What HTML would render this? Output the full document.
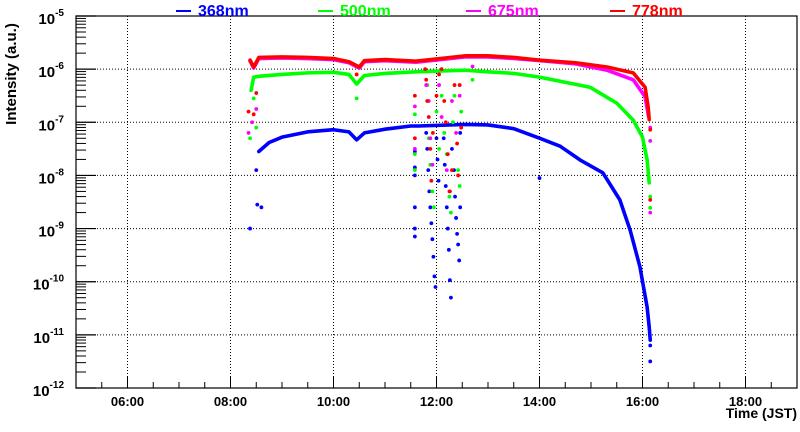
<!DOCTYPE html>
<html><head><meta charset="utf-8"><style>
body{margin:0;background:#fff;width:800px;height:427px;overflow:hidden}
svg text{font-family:"Liberation Sans",sans-serif;font-weight:bold}
</style></head><body>
<svg id="c" width="800" height="427"></svg>
<script>
// data: [hour, log10(intensity)]
const xTickLabels=["06:00","08:00","10:00","12:00","14:00","16:00","18:00"];
const xTickHours=[6,8,10,12,14,16,18];
const yDecades=[-5,-6,-7,-8,-9,-10,-11,-12];
const seriesNames=["368nm","500nm","675nm","778nm"];
const seriesColors=["#0000ff","#00ff00","#ff00ff","#ff0000"];
const blueLine=[[8.55,-7.55],[8.75,-7.38],[9,-7.28],[9.5,-7.18],[10,-7.14],[10.3,-7.18],[10.45,-7.33],[10.6,-7.2],[11,-7.13],[11.5,-7.07],[11.65,-7.07],[12.55,-7.04],[13,-7.05],[13.5,-7.12],[14.0,-7.3],[14.4,-7.45],[14.79,-7.71],[15.23,-7.95],[15.56,-8.46],[15.76,-9.03],[15.95,-9.72],[16.09,-10.48],[16.13,-10.85],[16.15,-11.1]];
const greenLine=[[8.4,-6.4],[8.45,-6.15],[8.6,-6.13],[9,-6.1],[9.5,-6.07],[10,-6.06],[10.3,-6.1],[10.45,-6.28],[10.6,-6.12],[11,-6.08],[11.6,-6.05],[12.55,-6.02],[13,-6.05],[13.5,-6.08],[14,-6.15],[14.98,-6.34],[15.5,-6.64],[15.82,-6.96],[16.0,-7.28],[16.09,-7.71],[16.13,-8.14]];
const magentaLine=[[8.38,-5.85],[8.45,-5.98],[8.55,-5.8],[9,-5.79],[9.5,-5.8],[10,-5.82],[10.3,-5.88],[10.5,-5.98],[10.6,-5.86],[11,-5.84],[11.6,-5.87],[12.55,-5.77],[13,-5.77],[13.5,-5.8],[14,-5.84],[14.7,-5.9],[15.31,-6.02],[15.82,-6.2],[16.05,-6.52],[16.12,-6.9]];
const redLine=[[8.38,-5.83],[8.45,-5.96],[8.55,-5.78],[9,-5.77],[9.5,-5.78],[10,-5.8],[10.3,-5.86],[10.5,-5.96],[10.6,-5.84],[11,-5.82],[11.6,-5.85],[12.55,-5.75],[13,-5.75],[13.5,-5.78],[14,-5.83],[14.7,-5.88],[15.31,-5.96],[15.82,-6.07],[16.05,-6.34],[16.11,-6.71],[16.13,-6.95]];
const blueDots=[[8.38,-9.0],[8.52,-8.55],[8.6,-8.6],[8.5,-7.9],[11.58,-7.55],[11.58,-7.85],[11.58,-8.0],[11.58,-8.6],[11.58,-9.0],[11.58,-9.15],[11.8,-7.2],[11.82,-7.5],[11.84,-7.9],[11.86,-8.3],[11.88,-8.6],[11.9,-8.9],[11.92,-9.2],[11.94,-9.53],[11.96,-9.9],[11.98,-10.1],[12.0,-7.3],[12.02,-7.7],[12.04,-8.1],[12.14,-7.3],[12.16,-7.8],[12.18,-8.2],[12.2,-8.6],[12.22,-9.0],[12.24,-9.4],[12.26,-9.97],[12.28,-10.3],[12.3,-7.5],[12.34,-7.9],[12.36,-8.4],[12.38,-8.8],[12.4,-9.1],[12.42,-9.3],[12.44,-9.6],[12.46,-7.2],[12.46,-8.6],[14.0,-8.05],[16.15,-11.5],[16.15,-11.2]];
const greenDots=[[8.38,-7.3],[8.45,-6.55],[8.5,-7.1],[10.45,-6.55],[11.58,-6.85],[11.58,-7.6],[11.58,-7.9],[11.82,-6.3],[11.85,-7.3],[11.88,-7.8],[11.92,-8.3],[11.95,-8.6],[12.0,-6.8],[12.05,-7.5],[12.1,-6.5],[12.15,-7.2],[12.2,-7.6],[12.25,-8.4],[12.28,-8.7],[12.32,-7.0],[12.35,-6.5],[12.42,-7.9],[12.45,-8.2],[12.48,-6.8],[12.7,-6.2],[16.15,-8.4],[16.15,-8.61]];
const magentaDots=[[8.35,-7.2],[8.42,-7.0],[8.5,-6.75],[11.58,-6.7],[11.58,-7.5],[11.8,-6.3],[11.85,-6.6],[11.88,-7.3],[11.92,-7.8],[12.05,-6.3],[12.1,-6.9],[12.2,-7.9],[12.25,-8.3],[12.3,-6.6],[12.38,-7.2],[12.45,-6.5],[12.7,-5.95],[16.15,-7.1],[16.15,-7.35],[16.15,-8.7]];
const redDots=[[8.35,-6.8],[8.45,-6.85],[8.5,-6.45],[10.45,-6.1],[11.58,-6.5],[11.58,-7.3],[11.78,-6.0],[11.8,-6.2],[11.82,-6.6],[11.85,-6.9],[11.88,-7.5],[11.9,-8.1],[11.93,-7.2],[12.0,-6.5],[12.05,-6.1],[12.1,-6.0],[12.15,-6.6],[12.18,-7.0],[12.22,-7.6],[12.26,-8.3],[12.3,-7.9],[12.35,-6.3],[12.4,-7.4],[12.42,-8.0],[12.45,-6.3],[12.48,-7.1],[16.15,-7.14],[16.15,-8.46]];
const lines=[blueLine,greenLine,magentaLine,redLine];
const dots=[blueDots,greenDots,magentaDots,redDots];

const L=76,R=797,T=16,B=388,X0=5,X1=19,Y0=-12,Y1=-5;
const sx=h=>L+(h-X0)/(X1-X0)*(R-L);
const sy=v=>B-(v-Y0)/(Y1-Y0)*(B-T);
const NS="http://www.w3.org/2000/svg";
const svg=document.getElementById('c');
function mk(t,a,p){const e=document.createElementNS(NS,t);for(const k in a)e.setAttribute(k,a[k]);(p||svg).appendChild(e);return e;}

// grid
xTickHours.forEach(h=>{const g=mk('line',{x1:sx(h),x2:sx(h),y1:T,y2:B,stroke:'#000','stroke-width':1,'stroke-dasharray':'1,2'});

});
yDecades.slice(1,-1).forEach(d=>{const g=mk('line',{x1:L,x2:R,y1:sy(d),y2:sy(d),stroke:'#000','stroke-width':1,'stroke-dasharray':'1,2'});

});

// series
lines.forEach((ln,i)=>{
 const p=mk('polyline',{points:ln.map(q=>sx(q[0])+','+sy(q[1])).join(' '),fill:'none',stroke:seriesColors[i],'stroke-width':3.6,'stroke-linejoin':'round','stroke-linecap':'round'});
 
 
 dots[i].forEach(q=>{const c=mk('circle',{cx:sx(q[0]),cy:sy(q[1]),r:1.9,fill:seriesColors[i]});
 
 });
});

// frame
const fr=mk('rect',{x:L,y:T,width:R-L,height:B-T,fill:'none',stroke:'#000','stroke-width':1.2});



// y ticks
yDecades.forEach(d=>{
 mk('line',{x1:L,x2:L+20,y1:sy(d),y2:sy(d),stroke:'#000','stroke-width':1.2});
 if(d>Y0){for(let k=2;k<10;k++){const y=sy(d-1+Math.log10(k));mk('line',{x1:L,x2:L+10,y1:y,y2:y,stroke:'#000','stroke-width':1});}}
 const t=mk('text',{x:L-12,y:sy(d)+8,'text-anchor':'end','font-size':15});
 
 
 t.innerHTML='10<tspan dy="-8" font-size="10">'+d+'</tspan>';
});
// x ticks
for(let h=5.5;h<19;h+=0.5){const maj=Number.isInteger(h)&&h%2===0;mk('line',{x1:sx(h),x2:sx(h),y1:B,y2:B-(maj?11:6),stroke:'#000','stroke-width':1});}
xTickHours.forEach((h,i)=>{const t=mk('text',{x:sx(h),y:B+18,'text-anchor':'middle','font-size':13});


t.textContent=xTickLabels[i];});

// titles
const xt=mk('text',{x:797,y:418,'text-anchor':'end','font-size':14});


xt.textContent='Time (JST)';
const yt=mk('text',{x:0,y:0,'text-anchor':'middle','font-size':15,transform:'translate(16,74) rotate(-90)'});


yt.textContent='Intensity (a.u.)';

// legend
const lx=[176,318,466,610];
seriesNames.forEach((n,i)=>{
 const g=mk('g',{});
 
 
 mk('line',{x1:lx[i],x2:lx[i]+15,y1:11,y2:11,stroke:seriesColors[i],'stroke-width':2},g);
 const t=mk('text',{x:lx[i]+22,y:16,'font-size':16,fill:seriesColors[i]},g);
 t.textContent=n;
});
</script>
</body></html>
